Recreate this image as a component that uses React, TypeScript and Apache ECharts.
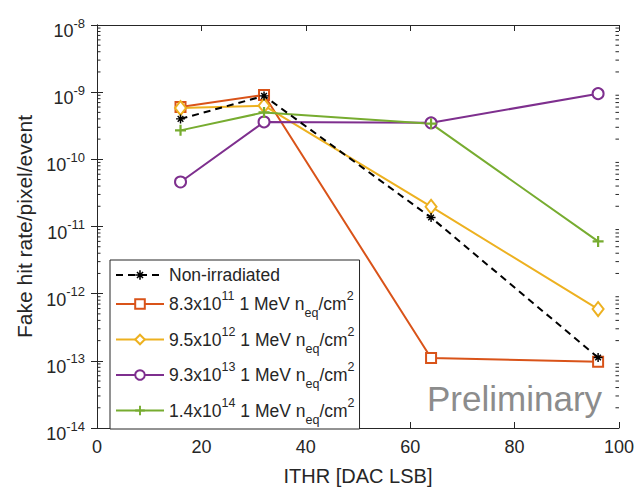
import React, { useEffect, useRef } from "react";
import * as echarts from "echarts";

const X = [16, 32, 64, 96];
const nonIrradiated = [4.0e-10, 8.8e-10, 1.36e-11, 1.12e-13];
const flu83e11 = [6.0e-10, 9.1e-10, 1.1e-13, 9.7e-14];
const flu95e12 = [5.8e-10, 6.3e-10, 1.97e-11, 5.9e-13];
const flu93e13 = [4.6e-11, 3.6e-10, 3.5e-10, 9.5e-10];
const flu14e14 = [2.7e-10, 5.0e-10, 3.4e-10, 6.0e-12];

const fluMantissa = ["8.3", "9.5", "9.3", "1.4"];
const fluExponent = ["11", "12", "13", "14"];
const seriesNames = ["Non-irradiated", "F1", "F2", "F3", "F4"];
const colors = ["#000000", "#D95319", "#EDB120", "#7E2F8E", "#77AC30"];

const Y_MIN = 1e-14;
const Y_MAX = 1e-8;

const FONT = "Liberation Sans, Arial, sans-serif";
const TXT = "#262626";

const asteriskPath =
  "path://M4.2,0 H5.8 V10 H4.2 Z M0,4.2 H10 V5.8 H0 Z M1.3,2.4 L2.4,1.3 L8.7,7.6 L7.6,8.7 Z M7.6,1.3 L8.7,2.4 L2.4,8.7 L1.3,7.6 Z";
const plusPath = "path://M4,0 H6 V10 H4 Z M0,4 H10 V6 H0 Z";

function minorTickValues(): number[][] {
  const out: number[][] = [];
  for (let d = -14; d < -8; d++) {
    for (let k = 2; k <= 9; k++) out.push([0, k * Math.pow(10, d)]);
  }
  return out;
}

const axisRich = {
  b: { fontSize: 18, lineHeight: 18, padding: [12, 0, 0, 0], color: TXT, fontFamily: FONT },
  sup: { fontSize: 13, lineHeight: 13, padding: [6.5, 0, 10.5, 0], color: TXT, fontFamily: FONT },
};

const legendRich = {
  p: { fontSize: 17.5, lineHeight: 17, color: TXT, fontFamily: FONT },
  b: { fontSize: 17.5, lineHeight: 18, padding: [6, 0, 6, 0], color: TXT, fontFamily: FONT },
  sup: { fontSize: 12.5, lineHeight: 12, padding: [1, 0, 17, 0], color: TXT, fontFamily: FONT },
  sub: { fontSize: 12.5, lineHeight: 12, padding: [18, 0, 0, 0], color: TXT, fontFamily: FONT },
};

export default function App() {
  const ref = useRef<HTMLDivElement>(null);
  useEffect(() => {
    if (!ref.current) return;
    const chart = echarts.init(ref.current, null, { renderer: "svg" });
    const pair = (arr: number[]) => X.map((x, i) => [x, arr[i]]);
    const lineBase = (name: string, data: number[], color: string) => ({
      name,
      type: "line",
      data: pair(data),
      xAxisIndex: 0,
      yAxisIndex: 0,
      color,
      lineStyle: { color, width: 2 },
      itemStyle: { color, borderColor: color, borderWidth: 2 },
      z: 3,
    });
    const legendFormatter = (name: string) => {
      const i = seriesNames.indexOf(name);
      if (i <= 0) return "{p|" + name + "}";
      const j = i - 1;
      return (
        "{b|" + fluMantissa[j] + "x10}{sup|" + fluExponent[j] + "}{b| 1 MeV n}{sub|eq}{b|/cm}{sup|2}"
      );
    };
    const option: any = {
      animation: false,
      textStyle: { fontFamily: FONT },
      grid: { left: 97, right: 15, top: 25, bottom: 58 },
      xAxis: [
        {
          type: "value",
          min: 0,
          max: 100,
          interval: 20,
          name: "ITHR [DAC LSB]",
          nameLocation: "middle",
          nameGap: 38,
          nameTextStyle: { fontSize: 20, color: TXT, fontFamily: FONT },
          axisLine: { show: true, lineStyle: { color: TXT, width: 1 } },
          axisTick: { show: true, inside: true, length: 6, lineStyle: { color: TXT } },
          axisLabel: { fontSize: 18, color: TXT, margin: 10, fontFamily: FONT },
          splitLine: { show: false },
        },
        {
          type: "value",
          position: "top",
          min: 0,
          max: 100,
          interval: 20,
          axisLine: { show: true, lineStyle: { color: TXT, width: 1 } },
          axisTick: { show: true, inside: true, length: 6, lineStyle: { color: TXT } },
          axisLabel: { show: false },
          splitLine: { show: false },
        },
      ],
      yAxis: [
        {
          type: "log",
          logBase: 10,
          min: Y_MIN,
          max: Y_MAX,
          name: "Fake hit rate/pixel/event",
          nameLocation: "middle",
          nameGap: 60,
          nameRotate: 90,
          nameTextStyle: { fontSize: 21, color: TXT, fontFamily: FONT },
          axisLine: { show: true, lineStyle: { color: TXT, width: 1 } },
          axisTick: { show: true, inside: true, length: 6, lineStyle: { color: TXT } },
          axisLabel: {
            margin: 12,
            formatter: (v: number) => "{b|10}{sup|" + Math.round(Math.log10(v)) + "}",
            rich: axisRich,
          },
          splitLine: { show: false },
        },
        {
          type: "log",
          logBase: 10,
          min: Y_MIN,
          max: Y_MAX,
          position: "right",
          axisLine: { show: true, lineStyle: { color: TXT, width: 1 } },
          axisTick: { show: true, inside: true, length: 6, lineStyle: { color: TXT } },
          axisLabel: { show: false },
          splitLine: { show: false },
        },
      ],
      legend: {
        orient: "vertical",
        left: 110,
        top: 260,
        data: seriesNames,
        selectedMode: false,
        backgroundColor: "#ffffff",
        borderColor: TXT,
        borderWidth: 1,
        borderRadius: 0,
        padding: [6, 5, 3, 5],
        itemGap: 4.5,
        itemWidth: 48,
        itemHeight: 12,
        formatter: legendFormatter,
        textStyle: { fontSize: 17.5, color: TXT, fontFamily: FONT, rich: legendRich },
      },
      graphic: [
        {
          type: "text",
          left: 427,
          top: 381,
          style: {
            text: "Preliminary",
            fontSize: 35,
            fontFamily: FONT,
            fill: "#8c8c8c",
          },
          z: 1,
        },
      ],
      series: [
        {
          type: "custom",
          name: "minorTicks",
          xAxisIndex: 0,
          yAxisIndex: 0,
          silent: true,
          clip: false,
          data: minorTickValues(),
          renderItem: (params: any, api: any) => {
            const v = api.value(1);
            const l = api.coord([0, v]);
            const r = api.coord([100, v]);
            const st = { stroke: TXT, lineWidth: 1 };
            return {
              type: "group",
              children: [
                { type: "line", shape: { x1: l[0], y1: l[1], x2: l[0] + 3.5, y2: l[1] }, style: st },
                { type: "line", shape: { x1: r[0] - 3.5, y1: r[1], x2: r[0], y2: r[1] }, style: st },
              ],
            };
          },
          z: 2,
        },
        {
          ...lineBase(seriesNames[0], nonIrradiated, colors[0]),
          lineStyle: { color: colors[0], width: 2, type: [7, 5] },
          symbol: asteriskPath,
          symbolSize: 9,
          itemStyle: { color: colors[0], borderWidth: 0 },
          z: 4,
        },
        { ...lineBase(seriesNames[1], flu83e11, colors[1]), symbol: "emptyRect", symbolSize: 10 },
        { ...lineBase(seriesNames[2], flu95e12, colors[2]), symbol: "emptyDiamond", symbolSize: [11, 14] },
        { ...lineBase(seriesNames[3], flu93e13, colors[3]), symbol: "emptyCircle", symbolSize: 11 },
        {
          ...lineBase(seriesNames[4], flu14e14, colors[4]),
          symbol: plusPath,
          symbolSize: 11,
          itemStyle: { color: colors[4], borderWidth: 0 },
        },
      ],
    };
    chart.setOption(option);
    return () => chart.dispose();
  }, []);
  return (
    <div
      ref={ref}
      style={{ position: "absolute", left: 0, top: 0, width: 637, height: 491 }}
    />
  );
}
